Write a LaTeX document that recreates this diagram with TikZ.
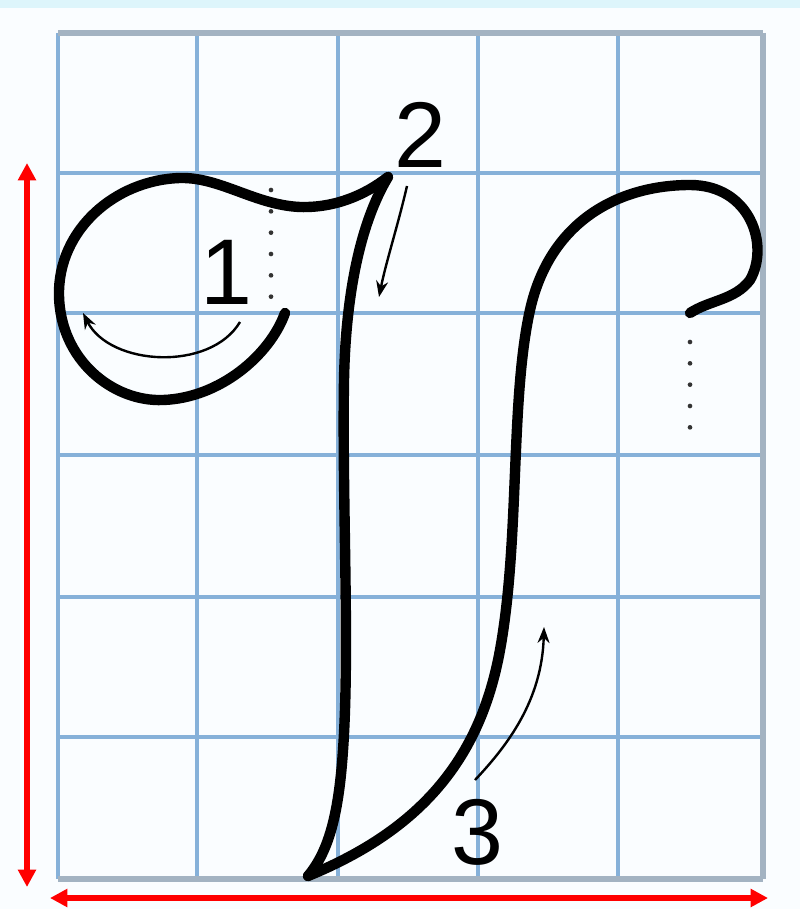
\documentclass[tikz,border=0pt]{standalone}
\usepackage{fontspec}
\setmainfont{Liberation Sans}
\usetikzlibrary{arrows.meta}
\definecolor{gridblue}{HTML}{86B1D9}
\definecolor{gridgrey}{HTML}{A3B3C2}
\definecolor{stripcol}{HTML}{DDF5FB}
\definecolor{paper}{HTML}{FAFDFF}
\begin{document}
\begin{tikzpicture}[x=0.75pt,y=-0.75pt,
  gridline/.style={gridblue,line width=2.5pt},
  border/.style={gridgrey,line width=3.8pt},
  pen/.style={black,line width=7.8pt,line cap=round,line join=round},
  guide/.style={black,line width=1.8pt,-{Stealth[length=12pt,width=9pt]}},
  dots/.style={black!80,line width=3.5pt,line cap=round,dash pattern=on 0pt off 16pt},
  redarrow/.style={red,line width=3.8pt,{Triangle[length=13pt,width=13pt]}-{Triangle[length=13pt,width=13pt]}},
  digit/.style={inner sep=0pt,font=\fontsize{70}{70}\selectfont}]
\useasboundingbox (0,0) rectangle (800,909);
\fill[paper] (0,0) rectangle (800,909);
\fill[stripcol] (0,0) rectangle (800,8);
% grid
\foreach \x in {197,338,478,618} \draw[gridline] (\x,33) -- (\x,879);
\foreach \y in {173,313,455,597,737} \draw[gridline] (58,\y) -- (763,\y);
\draw[gridline] (58,33) -- (58,879);
\draw[border] (763,33) -- (763,879);
\draw[border] (58,33) -- (763,33);
\draw[border] (58,879) -- (763,879);
% dotted guides
\draw[dots] (271,190) -- (271,304);
\draw[dots] (690,342) -- (690,442);
% stroke 1: loop
\draw[pen] (285,313) .. controls (270,355) and (220,398) .. (163,400)
  .. controls (113,402) and (60,360) .. (59,295)
  .. controls (58,230) and (115,180) .. (180,178)
  .. controls (220,177) and (255,205) .. (300,207)
  .. controls (335,208) and (365,195) .. (388,177);
% stroke 2: down stroke
\draw[pen] (388,177) .. controls (365,215) and (346,280) .. (344,380)
  .. controls (342,500) and (350,650) .. (343,750)
  .. controls (339,810) and (330,850) .. (308,876);
% stroke 3: up stroke and hook
\draw[pen] (308,876) .. controls (420,830) and (480,760) .. (500,650)
  .. controls (520,540) and (510,400) .. (530,310)
  .. controls (550,220) and (620,185) .. (690,185)
  .. controls (750,185) and (770,245) .. (750,280)
  .. controls (735,300) and (710,300) .. (690,313);
% direction arrows
\draw[guide] (240,322) .. controls (210,372) and (110,366) .. (83,313);
\draw[guide] (407,186) .. controls (398,225) and (386,262) .. (379,297);
\draw[guide] (475,780) .. controls (508,745) and (542,700) .. (544,627);
% numbers
\node[digit] (n1) at (226,272) {1};
\node[digit] (n2) at (420,135) {2};
\node[digit] (n3) at (477,832) {3};
% red dimension arrows
\coordinate (vt) at (27,163);
\coordinate (vb) at (27,887);
\coordinate (hl) at (50,898);
\coordinate (hr) at (768,898);
\draw[redarrow] (vt) -- (vb);
\draw[redarrow] (hl) -- (hr);
\end{tikzpicture}
\end{document}
